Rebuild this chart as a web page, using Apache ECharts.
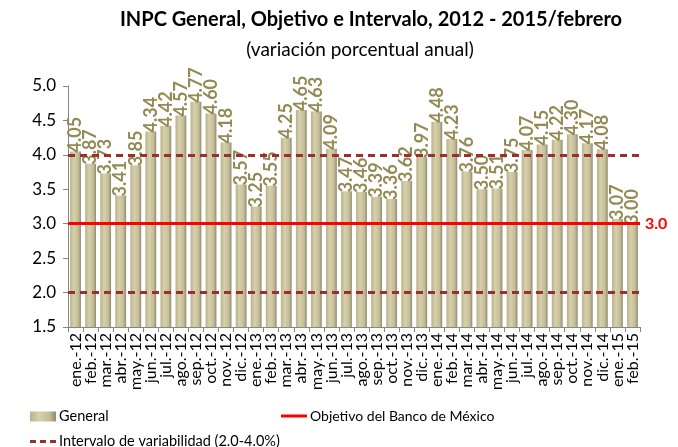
<!DOCTYPE html>
<html><head><meta charset="utf-8">
<script src="https://cdn.jsdelivr.net/npm/echarts@6/dist/echarts.min.js"></script>
<style>html,body{margin:0;padding:0;background:#fff}#c{width:678px;height:447px}</style>
</head><body><div id="c"></div>
<script>
const categories = ['ene.-12','feb.-12','mar.-12','abr.-12','may.-12','jun.-12','jul.-12','ago.-12','sep.-12','oct.-12','nov.-12','dic.-12',
 'ene.-13','feb.-13','mar.-13','abr.-13','may.-13','jun.-13','jul.-13','ago.-13','sep.-13','oct.-13','nov.-13','dic.-13',
 'ene.-14','feb.-14','mar.-14','abr.-14','may.-14','jun.-14','jul.-14','ago.-14','sep.-14','oct.-14','nov.-14','dic.-14',
 'ene.-15','feb.-15'];
const general = [4.05,3.87,3.73,3.41,3.85,4.34,4.42,4.57,4.77,4.60,4.18,3.57,
 3.25,3.55,4.25,4.65,4.63,4.09,3.47,3.46,3.39,3.36,3.62,3.97,
 4.48,4.23,3.76,3.50,3.51,3.75,4.07,4.15,4.22,4.30,4.17,4.08,
 3.07,3.00];
const objetivo = 3.0;
const intervalo = [2.0, 4.0];
const yTicks = {min:1.5, max:5.0, interval:0.5};

const FONT = 'Lato';
const barGrad = new echarts.graphic.LinearGradient(0,0,1,0,[
  {offset:0,color:'#b9b289'},{offset:0.35,color:'#d6d0ac'},{offset:0.75,color:'#c4bd97'},{offset:1,color:'#8f8a72'}]);
const chart = echarts.init(document.getElementById('c'));
chart.setOption({
  animation:false,
  textStyle:{fontFamily:FONT},
  title:[{text:'INPC General, Objetivo e Intervalo, 2012 - 2015/febrero',left:366,top:5,textAlign:'center',
    textStyle:{fontFamily:FONT,fontSize:20,fontWeight:'bold',color:'#000'}},
    {text:'(variación porcentual anual)',left:355,top:35,textAlign:'center',
    textStyle:{fontFamily:FONT,fontSize:19,fontWeight:'normal',color:'#000'}}],
  grid:{left:68,right:38,top:86,bottom:120},
  legend:[
    {data:[{name:'General',icon:'rect'}],left:25,top:404,itemWidth:26,itemHeight:10,
      textStyle:{fontFamily:FONT,fontSize:14.5,color:'#000',padding:[0,0,0,-2]}},
    {data:[{name:'Objetivo del Banco de México',icon:'path://M0,0h26v3h-26z'}],left:276,top:404,itemWidth:26,itemHeight:3,
      textStyle:{fontFamily:FONT,fontSize:14,color:'#000',padding:[0,0,0,-2]}},
    {data:[{name:'Intervalo de variabilidad (2.0-4.0%)',icon:'path://M0,0h6v3h-6z M10,0h6v3h-6z M20,0h6v3h-6z'}],left:25,top:429,itemWidth:26,itemHeight:3,
      textStyle:{fontFamily:FONT,fontSize:14.5,color:'#000',padding:[0,0,0,-2]}}
  ],
  xAxis:{type:'category',data:categories,
    axisLine:{lineStyle:{color:'#868686'}},
    axisTick:{show:true,length:5,lineStyle:{color:'#868686'}},
    axisLabel:{rotate:90,interval:0,fontFamily:FONT,fontSize:16,color:'#000',margin:6}},
  yAxis:{type:'value',min:yTicks.min,max:yTicks.max,interval:yTicks.interval,
    splitLine:{show:false},
    axisLine:{show:true,lineStyle:{color:'#868686'}},
    axisTick:{show:true,length:5,lineStyle:{color:'#868686'}},
    axisLabel:{formatter:v=>v.toFixed(1),fontFamily:FONT,fontSize:17,color:'#000',margin:12}},
  series:[
    {name:'General',type:'bar',data:general,barWidth:'72%',
      itemStyle:{color:barGrad},
      label:{show:true,position:'top',rotate:90,align:'left',verticalAlign:'middle',distance:-1,
        formatter:p=>p.value.toFixed(2),fontFamily:FONT,fontSize:18,fontWeight:'bold',color:'#948a54'}},
    {name:'Objetivo del Banco de México',type:'line',data:[],symbol:'none',
      itemStyle:{color:'#ff0000'},lineStyle:{color:'#ff0000',width:3},
      markLine:{symbol:'none',silent:true,
        lineStyle:{color:'#ff0000',width:3,type:'solid'},
        label:{show:true,position:'end',formatter:objetivo.toFixed(1),color:'#ff0000',fontFamily:FONT,fontSize:16,fontWeight:'bold'},
        data:[{yAxis:objetivo}]}},
    {name:'Intervalo de variabilidad (2.0-4.0%)',type:'line',data:[],symbol:'none',
      itemStyle:{color:'#9b2f2f'},lineStyle:{color:'#9b2f2f',width:3,type:[6,4]},
      markLine:{symbol:'none',silent:true,
        lineStyle:{color:'#9b2f2f',width:3,type:[7,5]},
        label:{show:false},
        data:intervalo.map(v=>({yAxis:v}))}}
  ]
});
</script></body></html>
